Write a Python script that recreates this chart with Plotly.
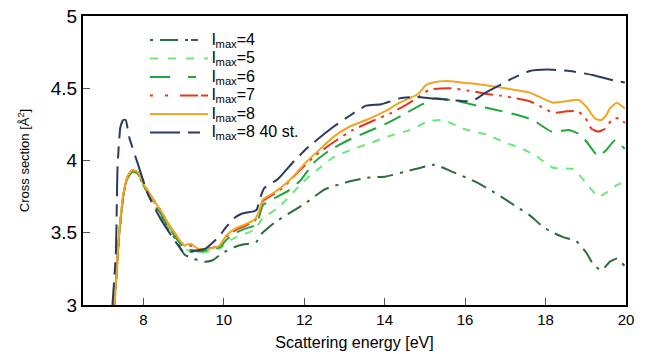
import plotly.graph_objects as go

# ---------------- data ----------------
x_l4 = [7.27, 7.33, 7.40, 7.51, 7.61, 7.73, 7.86, 8.0, 8.2, 8.44, 8.65, 8.85, 9.02, 9.25, 9.52, 9.72, 9.97,
        10.26, 10.5, 10.76, 10.82, 10.89, 11.26, 11.6, 12.01, 12.51, 13.05, 13.54, 14.04, 14.62, 15.24, 15.70,
        16.28, 16.78, 17.28, 17.61, 17.94, 18.19, 18.44, 18.77, 19.02, 19.19, 19.39, 19.60, 19.77, 19.97]
y_l4 = [2.95, 3.2, 3.49, 3.77, 3.88, 3.925, 3.91, 3.83, 3.73, 3.62, 3.52, 3.43, 3.35, 3.32, 3.30, 3.31, 3.36,
        3.40, 3.42, 3.43, 3.44, 3.48, 3.57, 3.63, 3.70, 3.80, 3.85, 3.88, 3.89, 3.93, 3.97, 3.92,
        3.85, 3.77, 3.68, 3.62, 3.54, 3.50, 3.47, 3.44, 3.36, 3.28, 3.24, 3.30, 3.32, 3.27]

x_l5 = [7.27, 7.33, 7.40, 7.51, 7.61, 7.73, 7.86, 8.0, 8.2, 8.44, 8.65, 8.85, 9.02, 9.2, 9.4, 9.6, 9.9,
        10.10, 10.4, 10.76, 10.97, 11.34, 11.97, 12.3, 12.71, 13.13, 13.63, 14.12, 14.62, 15.08, 15.45, 15.95,
        16.53, 17.03, 17.36, 17.77, 18.19, 18.69, 19.02, 19.31, 19.52, 19.77, 19.95]
y_l5 = [2.95, 3.2, 3.49, 3.77, 3.88, 3.925, 3.91, 3.83, 3.74, 3.63, 3.53, 3.45, 3.39, 3.37, 3.36, 3.37, 3.39,
        3.44, 3.48, 3.52, 3.60, 3.67, 3.85, 3.93, 4.02, 4.07, 4.12, 4.17, 4.21, 4.27, 4.28, 4.22,
        4.18, 4.12, 4.09, 4.03, 3.95, 3.94, 3.84, 3.75, 3.78, 3.83, 3.85]

x_l6 = [7.27, 7.33, 7.40, 7.51, 7.61, 7.73, 7.86, 8.0, 8.2, 8.44, 8.65, 8.85, 9.02, 9.2, 9.4, 9.6, 9.9,
        10.06, 10.3, 10.55, 10.76, 10.87, 10.97, 11.26, 11.6, 11.9, 12.26, 12.63, 13.09, 13.5, 14.0, 14.41,
        14.87, 15.24, 15.82, 16.28, 16.78, 17.36, 17.69, 18.15, 18.6, 18.85, 19.02, 19.31, 19.5, 19.73, 19.97]
y_l6 = [2.95, 3.2, 3.49, 3.77, 3.88, 3.925, 3.91, 3.83, 3.74, 3.63, 3.53, 3.45, 3.39, 3.38, 3.37, 3.38, 3.40,
        3.45, 3.50, 3.53, 3.55, 3.60, 3.69, 3.74, 3.79, 3.86, 3.99, 4.07, 4.14, 4.19, 4.25, 4.31,
        4.38, 4.43, 4.41, 4.38, 4.35, 4.31, 4.28, 4.20, 4.21, 4.18, 4.13, 4.03, 4.07, 4.14, 4.08]

x_l7 = [7.27, 7.33, 7.40, 7.51, 7.61, 7.73, 7.86, 8.0, 8.2, 8.44, 8.65, 8.85, 9.02, 9.1, 9.2, 9.35, 9.6, 9.89,
        10.06, 10.3, 10.55, 10.76, 10.87, 10.97, 11.26, 11.5, 11.88, 12.3, 12.8, 13.2, 13.67, 14.17, 14.5,
        14.79, 15.12, 15.62, 16.16, 16.53, 16.86, 17.28, 17.61, 17.9, 18.19, 18.52, 18.81, 19.0, 19.14,
        19.31, 19.48, 19.68, 19.85, 19.97]
y_l7 = [2.95, 3.2, 3.50, 3.78, 3.89, 3.935, 3.92, 3.84, 3.75, 3.65, 3.55, 3.47, 3.41, 3.41, 3.41, 3.39, 3.39, 3.41,
        3.47, 3.52, 3.55, 3.58, 3.63, 3.72, 3.77, 3.82, 3.93, 4.04, 4.14, 4.21, 4.27, 4.33, 4.38,
        4.43, 4.49, 4.50, 4.48, 4.46, 4.45, 4.43, 4.41, 4.37, 4.33, 4.34, 4.34, 4.29, 4.22,
        4.20, 4.22, 4.29, 4.29, 4.26]

x_l8 = [7.27, 7.33, 7.40, 7.51, 7.61, 7.73, 7.86, 8.0, 8.2, 8.44, 8.65, 8.85, 9.02, 9.1, 9.2, 9.35, 9.6, 9.89,
        10.06, 10.3, 10.55, 10.76, 10.87, 10.97, 11.26, 11.5, 11.76, 12.05, 12.4, 12.71, 13.1, 13.54, 14.0,
        14.37, 14.83, 15.02, 15.2, 15.54, 15.9, 16.28, 16.78, 17.2, 17.6, 17.77, 18.0, 18.19, 18.52, 18.81,
        19.02, 19.23, 19.39, 19.5, 19.6, 19.77, 19.97]
y_l8 = [2.95, 3.2, 3.50, 3.78, 3.89, 3.935, 3.92, 3.84, 3.75, 3.65, 3.55, 3.47, 3.41, 3.42, 3.42, 3.39, 3.39, 3.41,
        3.48, 3.53, 3.56, 3.59, 3.64, 3.73, 3.78, 3.83, 3.90, 3.99, 4.08, 4.16, 4.23, 4.28, 4.34,
        4.40, 4.46, 4.52, 4.54, 4.55, 4.54, 4.53, 4.51, 4.49, 4.47, 4.45, 4.42, 4.40, 4.41, 4.42,
        4.37, 4.29, 4.28, 4.31, 4.36, 4.40, 4.36]

x_l8_40 = [7.22, 7.27, 7.32, 7.36, 7.43, 7.50, 7.56, 7.65, 7.86, 8.11, 8.44, 8.77, 9.02, 9.19, 9.39, 9.55, 9.72,
           9.9, 10.06, 10.25, 10.43, 10.76, 10.82, 10.89, 11.01, 11.34, 11.76, 12.13, 12.71, 13.13, 13.54, 13.92,
           14.37, 14.79, 15.12, 15.6, 16.11, 16.3, 16.45, 16.78, 17.19, 17.61, 18.02, 18.6, 19.19, 19.60, 19.97]
y_l8_40 = [2.95, 3.15, 3.38, 3.96, 4.23, 4.28, 4.28, 4.16, 3.98, 3.77, 3.59, 3.45, 3.36, 3.37, 3.38, 3.39, 3.43,
           3.48, 3.54, 3.60, 3.63, 3.65, 3.66, 3.73, 3.81, 3.87, 4.00, 4.10, 4.23, 4.31, 4.38, 4.39,
           4.43, 4.44, 4.43, 4.42, 4.41, 4.43, 4.46, 4.51, 4.57, 4.62, 4.63, 4.62, 4.59, 4.56, 4.54]

names = ["l<sub>max</sub>=4", "l<sub>max</sub>=5", "l<sub>max</sub>=6", "l<sub>max</sub>=7",
         "l<sub>max</sub>=8", "l<sub>max</sub>=8 40 st."]
x_ticks = [8, 10, 12, 14, 16, 18, 20]
y_ticks = [3, 3.5, 4, 4.5, 5]

# ---------------- styling ----------------
series = [
    (x_l4, y_l4, "#2e6b3c", "16px,7px,3px,7px"),
    (x_l5, y_l5, "#6ae87e", "8px,8px"),
    (x_l6, y_l6, "#1fa838", "18px,9px"),
    (x_l7, y_l7, "#e8361e", "18px,6px,3px,6px,3px,6px"),
    (x_l8, y_l8, "#f0a524", "solid"),
    (x_l8_40, y_l8_40, "#2b3b5e", "30px,8px,12px,8px"),
]
legend_dash = ["3px,7px,18px,7px,3px", "8px,10px", "20px,18px,8px", "3px,12px,3px,12px,18px",
               "solid", "30px,8px,12px"]

fig = go.Figure()
for (xs, ys, col, dash), nm in zip(series, names):
    fig.add_trace(go.Scatter(x=xs, y=ys, mode="lines", name=nm, showlegend=False,
                             line=dict(color=col, width=2, dash=dash, shape="spline", smoothing=0.5)))

# legend drawn in paper coordinates (long gnuplot-style samples)
plot_l, plot_r, plot_t, plot_b = 83, 626, 16, 305
W, H = plot_r - plot_l, plot_b - plot_t
leg_x0, leg_x1, leg_tx = 150, 208, 210
leg_y0, leg_dy = 40, 18.5
font_fam = "Liberation Sans, Arial, sans-serif"
for i, ((xs, ys, col, dash), nm) in enumerate(zip(series, names)):
    py = leg_y0 + i * leg_dy
    yp = (plot_b - py) / H
    fig.add_shape(type="line", xref="paper", yref="paper",
                  x0=(leg_x0 - plot_l) / W, x1=(leg_x1 - plot_l) / W, y0=yp, y1=yp,
                  line=dict(color=col, width=2, dash=legend_dash[i]))
    fig.add_annotation(xref="paper", yref="paper", x=(leg_tx - plot_l) / W, y=yp,
                       xanchor="left", yanchor="middle", text=nm, showarrow=False,
                       font=dict(size=16, family=font_fam, color="black"))

fig.update_layout(
    width=646, height=354,
    margin=dict(l=plot_l, r=646 - plot_r, t=plot_t, b=354 - plot_b),
    paper_bgcolor="white", plot_bgcolor="white",
    font=dict(family=font_fam, color="black"),
    showlegend=False,
)
fig.update_xaxes(range=[6.5, 20], tickvals=x_ticks, ticks="inside", ticklen=7, tickcolor="#555",
                 showline=True, linecolor="black", linewidth=2, mirror=True, showgrid=False, zeroline=False,
                 automargin=False,
                 tickfont=dict(size=15), title=dict(text="Scattering energy [eV]", font=dict(size=16), standoff=10))
fig.update_yaxes(range=[3, 5], tickvals=y_ticks, ticktext=["3", "3.5", "4", "4.5", "5"], ticks="inside",
                 ticklen=7, tickcolor="#555", automargin=False,
                 showline=True, linecolor="black", linewidth=2, mirror=True, showgrid=False, zeroline=False,
                 tickfont=dict(size=19), title=dict(text="Cross section [Å<sup>2</sup>]", font=dict(size=13), standoff=18))

fig.write_html("out.html")
